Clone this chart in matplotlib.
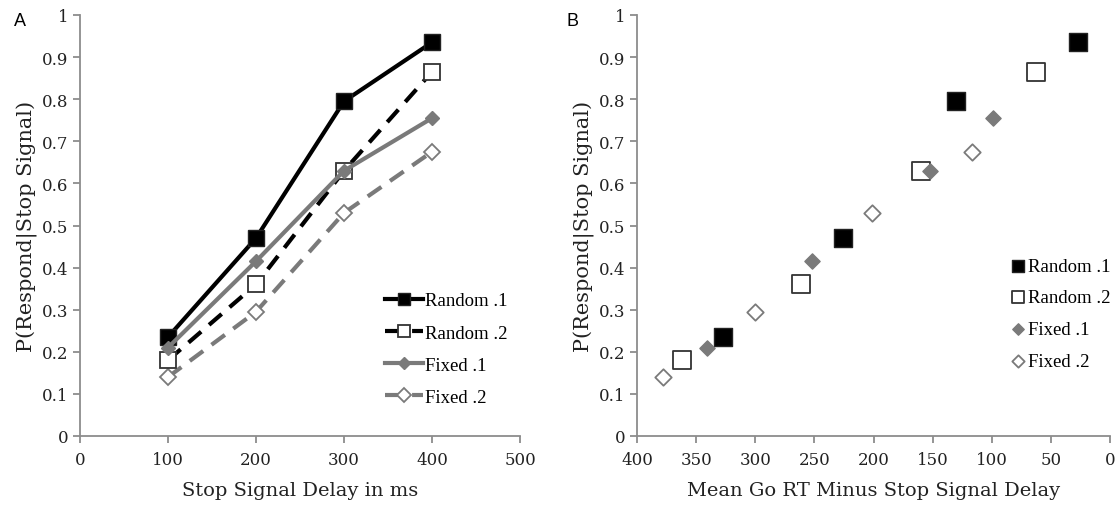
import matplotlib.pyplot as plt
import numpy as np

# stop signal delays (ms)
ssd = [100, 200, 300, 400]
random1 = [0.235, 0.47, 0.795, 0.935]
random2 = [0.18, 0.36, 0.63, 0.865]
fixed1 = [0.21, 0.415, 0.63, 0.755]
fixed2 = [0.14, 0.295, 0.53, 0.675]

# mean go RT minus SSD for each condition
gap_random1 = [327, 226, 130, 27]
gap_random2 = [362, 261, 160, 63]
gap_fixed1 = [341, 252, 152, 99]
gap_fixed2 = [378, 300, 201, 117]

labels = ['Random .1', 'Random .2', 'Fixed .1', 'Fixed .2']
ylab = 'P(Respond|Stop Signal)'

plt.rcParams['font.family'] = ['DejaVu Serif']
grey = '#7a7a7a'
axcol = '#8c8c8c'
legfont = {'family': 'Liberation Serif', 'size': 13.5}

fig = plt.figure(figsize=(11.17, 5.06), dpi=100)
ax1 = fig.add_axes([80/1117, 1-437/506, 440/1117, 421/506])
ax2 = fig.add_axes([637/1117, 1-437/506, 473/1117, 421/506])

def style(ax):
    for s in ['top', 'right']:
        ax.spines[s].set_visible(False)
    for s in ['left', 'bottom']:
        ax.spines[s].set_color(axcol)
        ax.spines[s].set_linewidth(1.3)
    ax.tick_params(colors=axcol, labelcolor='#222222', labelsize=12, length=5, width=1.3)
    ax.tick_params(axis='x', pad=6)
    ax.set_ylim(0, 1)
    ax.set_yticks(np.arange(0, 1.01, 0.1))
    ax.set_yticklabels(['0', '0.1', '0.2', '0.3', '0.4', '0.5', '0.6', '0.7', '0.8', '0.9', '1'])
    ax.set_ylabel(ylab, fontsize=15, color='#222222', labelpad=3)

# panel A
ax1.plot(ssd, random1, color='black', lw=3, marker='s', ms=11, mfc='black', mec='#222222', label=labels[0], zorder=5)
ax1.plot(ssd, random2, color='black', lw=3, ls=(0, (4, 2.5)), marker='s', ms=11, mfc='white', mec='#333333', mew=1.3, label=labels[1], zorder=4)
ax1.plot(ssd, fixed1, color=grey, lw=3, marker='D', ms=7, mfc=grey, mec=grey, label=labels[2], zorder=6)
ax1.plot(ssd, fixed2, color=grey, lw=3, ls=(0, (4, 2.5)), marker='D', ms=8, mfc='white', mec=grey, mew=1.3, label=labels[3], zorder=3)
ax1.set_xlim(0, 500)
ax1.set_xticks([0, 100, 200, 300, 400, 500])
style(ax1)
ax1.set_xlabel('Stop Signal Delay in ms', fontsize=14, color='#222222', labelpad=9)
ax1.legend(loc='upper left', bbox_to_anchor=(376/1117, 1-284/506), bbox_transform=fig.transFigure,
           frameon=False, prop=legfont, markerscale=0.85,
           handlelength=2.0, handletextpad=0.1, labelspacing=0.8, borderpad=0)

# panel B
ax2.scatter(gap_random1, random1, marker='s', s=150, c='black', edgecolors='#222222', label=labels[0], zorder=5)
ax2.scatter(gap_random2, random2, marker='s', s=150, c='white', edgecolors='#333333', linewidths=1.3, label=labels[1], zorder=4)
ax2.scatter(gap_fixed1, fixed1, marker='D', s=60, c=grey, edgecolors=grey, label=labels[2], zorder=6)
ax2.scatter(gap_fixed2, fixed2, marker='D', s=70, c='white', edgecolors=grey, linewidths=1.3, label=labels[3], zorder=3)
ax2.set_xlim(400, 0)
ax2.set_xticks([400, 350, 300, 250, 200, 150, 100, 50, 0])
style(ax2)
ax2.set_xlabel('Mean Go RT Minus Stop Signal Delay', fontsize=14, color='#222222', labelpad=9)
ax2.legend(loc='upper left', bbox_to_anchor=(1002/1117, 1-249/506), bbox_transform=fig.transFigure,
           frameon=False, prop=legfont, markerscale=0.75,
           handlelength=0.75, handletextpad=0.15, labelspacing=0.78, borderpad=0, scatterpoints=1)

fig.text(14/1117, 1-21/506, 'A', fontsize=13, family='Liberation Sans', va='center')
fig.text(567/1117, 1-21/506, 'B', fontsize=13, family='Liberation Sans', va='center')

fig.savefig('out.png', dpi=100)
